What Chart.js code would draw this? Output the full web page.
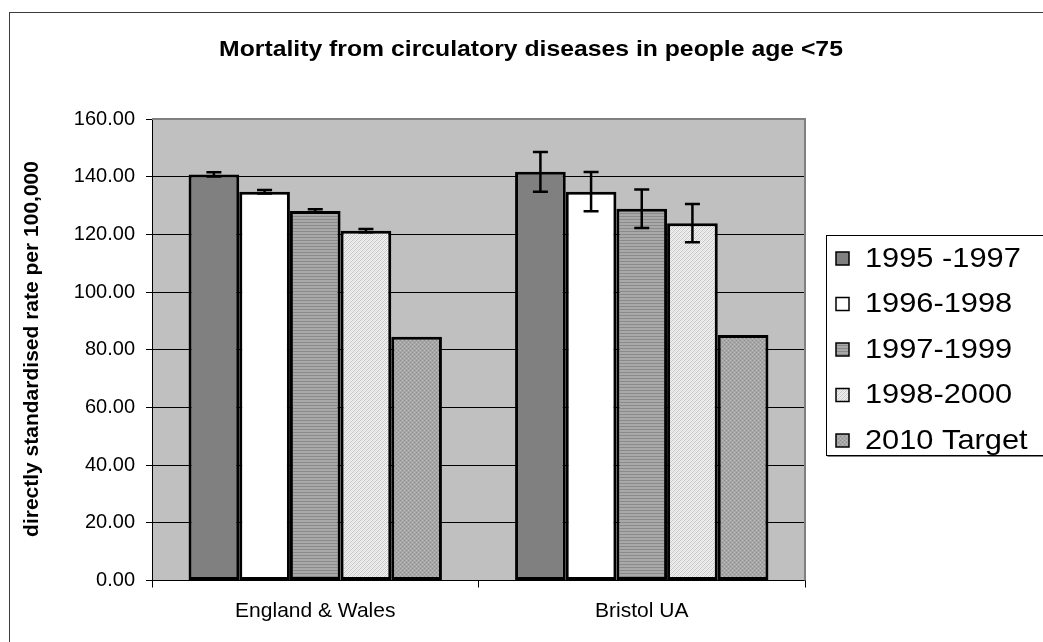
<!DOCTYPE html>
<html>
<head>
<meta charset="utf-8">
<script src="https://cdn.jsdelivr.net/npm/chart.js@4.4.0/dist/chart.umd.min.js"></script>
<style>
  html, body { margin: 0; padding: 0; background: #ffffff; }
  #wrap { position: relative; width: 1043px; height: 642px; }
  canvas { display: block; }
</style>
</head>
<body>
<div id="wrap"><canvas id="c" width="1043" height="642"></canvas></div>
<script>
// ---- data ----
const chartTitle = "Mortality from circulatory diseases in people age <75";
const yAxisTitle = "directly standardised rate per 100,000";
const categories = ["England & Wales", "Bristol UA"];
const seriesLabels = ["1995 -1997", "1996-1998", "1997-1999", "1998-2000", "2010 Target"];
const s1995 = [140.8, 141.7];
const s1996 = [134.8, 134.8];
const s1997 = [128.1, 128.9];
const s1998 = [121.3, 123.9];
const sTarget = [84.5, 85.1];
const e1995 = [0.7, 6.9];
const e1996 = [0.6, 6.8];
const e1997 = [0.6, 6.7];
const e1998 = [0.6, 6.6];
const eTarget = [null, null];
const yMin = 0, yMax = 160, yStep = 20;

const seriesValues = [s1995, s1996, s1997, s1998, sTarget];
const seriesErrors = [e1995, e1996, e1997, e1998, eTarget];

// ---- fills ----
function makePattern(w, h, draw) {
  const c = document.createElement('canvas');
  c.width = w; c.height = h;
  const g = c.getContext('2d');
  draw(g);
  return g.createPattern(c, 'repeat');
}
const ctxMain = document.getElementById('c').getContext('2d');
const fillSolidDark = '#808080';
const fillWhite = '#ffffff';
const fillStripes = makePattern(1, 3, g => {
  g.fillStyle = '#a9a9a9'; g.fillRect(0, 0, 1, 3);
  g.fillStyle = '#8a8a8a'; g.fillRect(0, 0, 1, 1);
});
const fillDiag = makePattern(4, 4, g => {
  g.fillStyle = '#f2f2f2'; g.fillRect(0, 0, 4, 4);
  for (let x = 0; x < 4; x++) for (let y = 0; y < 4; y++) {
    if ((x + y) % 4 === 0) { g.fillStyle = '#c4c4c4'; g.fillRect(x, y, 1, 1); }
    else if ((x + y) % 4 === 2) { g.fillStyle = '#dedede'; g.fillRect(x, y, 1, 1); }
  }
});
const fillDots = makePattern(4, 4, g => {
  g.fillStyle = '#a6a6a6'; g.fillRect(0, 0, 4, 4);
  g.fillStyle = '#8e8e8e'; g.fillRect(0, 0, 1, 1); g.fillRect(2, 2, 1, 1);
  g.fillStyle = '#bdbdbd'; g.fillRect(2, 0, 1, 1); g.fillRect(0, 2, 1, 1);
});
const seriesFills = [fillSolidDark, fillWhite, fillStripes, fillDiag, fillDots];

const FONT = "'Liberation Sans', Arial, Helvetica, sans-serif";

// ---- plugins ----
const decor = {
  id: 'decor',
  beforeDraw(chart) {
    const ctx = chart.ctx, a = chart.chartArea;
    ctx.save();
    ctx.fillStyle = '#ffffff';
    ctx.fillRect(0, 0, chart.width, chart.height);
    ctx.strokeStyle = '#3c3c3c';
    ctx.lineWidth = 1;
    ctx.strokeRect(9.5, 12.5, 1200, 800);
    ctx.fillStyle = '#c0c0c0';
    ctx.fillRect(a.left, a.top, a.right - a.left, a.bottom - a.top);
    ctx.restore();
  },
  beforeDatasetsDraw(chart) {
    const ctx = chart.ctx, a = chart.chartArea;
    ctx.save();
    ctx.strokeStyle = '#808080';
    ctx.lineWidth = 2;
    ctx.beginPath();
    ctx.moveTo(a.left, a.top);
    ctx.lineTo(a.right, a.top);
    ctx.lineTo(a.right, a.bottom);
    ctx.stroke();
    ctx.restore();
  },
  afterDatasetsDraw(chart) {
    const ctx = chart.ctx;
    const ys = chart.scales.y;
    ctx.save();
    ctx.strokeStyle = '#000000';
    ctx.lineWidth = 2.5;
    seriesErrors.forEach((errs, di) => {
      const meta = chart.getDatasetMeta(di);
      errs.forEach((e, j) => {
        if (e === null || e === undefined) return;
        const v = seriesValues[di][j];
        const x = meta.data[j].x;
        const yTop = ys.getPixelForValue(v + e);
        const yBot = ys.getPixelForValue(v - e);
        ctx.beginPath();
        ctx.moveTo(x, yTop); ctx.lineTo(x, yBot);
        ctx.moveTo(x - 7.5, yTop); ctx.lineTo(x + 7.5, yTop);
        ctx.moveTo(x - 7.5, yBot); ctx.lineTo(x + 7.5, yBot);
        ctx.stroke();
      });
    });
    ctx.restore();
  },
  afterDraw(chart) {
    const ctx = chart.ctx;
    ctx.save();
    ctx.fillStyle = '#000';
    // title (slightly widened like the original)
    ctx.save();
    ctx.translate(531, 50);
    ctx.scale(1.1, 1);
    ctx.font = "bold 22.5px " + FONT;
    ctx.textAlign = 'center';
    ctx.textBaseline = 'middle';
    ctx.fillText(chartTitle, 0, 0);
    ctx.restore();
    // y axis title
    ctx.save();
    ctx.translate(32, 349);
    ctx.rotate(-Math.PI / 2);
    ctx.font = "bold 21px " + FONT;
    ctx.textAlign = 'center';
    ctx.textBaseline = 'middle';
    ctx.fillText(yAxisTitle, 0, 0);
    ctx.restore();
    // legend
    const lx = 826.5, ly = 235.5, lw = 240, lh = 220;
    ctx.fillStyle = '#ffffff';
    ctx.fillRect(lx, ly, lw, lh);
    ctx.strokeStyle = '#000';
    ctx.lineWidth = 1;
    ctx.strokeRect(lx, ly, lw, lh);
    ctx.strokeStyle = '#808080';
    ctx.beginPath(); ctx.moveTo(lx + 1, ly + lh + 1); ctx.lineTo(lx + lw, ly + lh + 1); ctx.stroke();
    seriesLabels.forEach((lab, i) => {
      const cy = 258 + i * 45.5;
      ctx.fillStyle = seriesFills[i];
      ctx.fillRect(836, cy - 6, 13, 13);
      ctx.strokeStyle = '#000';
      ctx.lineWidth = 1.5;
      ctx.strokeRect(836, cy - 6, 13, 13);
      ctx.save();
      ctx.translate(865, cy + 1);
      ctx.scale(1.08, 1);
      ctx.font = "28.5px " + FONT;
      ctx.textAlign = 'left';
      ctx.textBaseline = 'middle';
      ctx.fillStyle = '#000';
      ctx.fillText(lab, 0, 0);
      ctx.restore();
    });
    ctx.restore();
  }
};

const datasets = seriesLabels.map((lab, i) => ({
  label: lab,
  data: seriesValues[i],
  backgroundColor: seriesFills[i],
  borderColor: '#000000',
  borderWidth: 3,
  borderSkipped: false,
  categoryPercentage: 0.776,
  barPercentage: 1.0
}));

new Chart(ctxMain, {
  type: 'bar',
  data: { labels: categories, datasets },
  options: {
    responsive: false,
    animation: false,
    devicePixelRatio: 1,
    layout: { padding: { top: 119, right: 238, left: 0, bottom: 0 } },
    plugins: { legend: { display: false }, title: { display: false }, tooltip: { enabled: false } },
    scales: {
      x: {
        offset: true,
        grid: { display: true, drawOnChartArea: false, drawTicks: true, tickLength: 7, color: '#000', offset: true, lineWidth: 1 },
        border: { display: true, color: '#000', width: 1 },
        ticks: { color: '#000', font: { family: FONT, size: 21 }, padding: 11, maxRotation: 0 },
        afterFit(s) { s.height = 61.5; }
      },
      y: {
        min: yMin, max: yMax,
        grid: { color: '#000', lineWidth: 1, tickLength: 6, drawTicks: true },
        border: { display: true, color: '#000', width: 1 },
        ticks: {
          stepSize: yStep, color: '#000', padding: 11,
          font: { family: FONT, size: 20 },
          callback: v => Number(v).toFixed(2)
        },
        afterFit(s) { s.width = 152; }
      }
    }
  },
  plugins: [decor]
});
</script>
</body>
</html>
